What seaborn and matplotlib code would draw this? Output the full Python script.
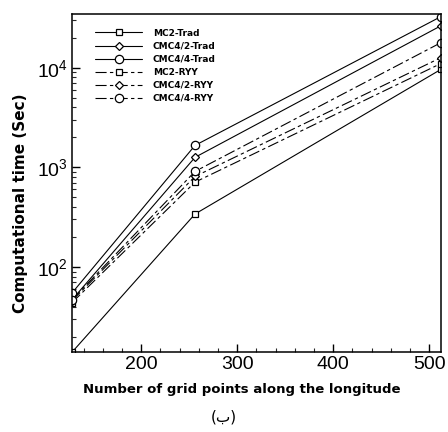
import numpy as np
import pandas as pd
import seaborn as sns
import matplotlib
matplotlib.use("Agg")
import matplotlib.pyplot as plt
from matplotlib.ticker import LogLocator, NullFormatter, MultipleLocator

grid_points = [128, 256, 512]
series_names = ["MC2-Trad", "CMC4/2-Trad", "CMC4/4-Trad", "MC2-RYY", "CMC4/2-RYY", "CMC4/4-RYY"]
mc2_trad = [14, 340, 9600]
cmc42_trad = [47, 1260, 26300]
cmc44_trad = [55, 1660, 32500]
mc2_ryy = [44, 710, 11000]
cmc42_ryy = [46, 810, 12600]
cmc44_ryy = [47, 910, 17800]
values = [mc2_trad, cmc42_trad, cmc44_trad, mc2_ryy, cmc42_ryy, cmc44_ryy]
markers = ["s", "D", "o", "s", "D", "o"]

rows = []
for name, vals in zip(series_names, values):
    for x, v in zip(grid_points, vals):
        rows.append({"x": x, "time": v, "series": name})
df = pd.DataFrame(rows)

sns.set_theme(style="white")
plt.rcParams["font.family"] = ["Liberation Sans", "DejaVu Sans"]
plt.rcParams["text.color"] = "black"
plt.rcParams["axes.labelcolor"] = "black"

fig = plt.figure(figsize=(4.48, 4.32), dpi=100)
ax = fig.add_axes([0.161, 0.185, 0.823, 0.783])

dash_ryy = (10, 3, 3, 3)
msizes = {"s": 5, "D": 4.2, "o": 6}
for name, mk in zip(series_names, markers):
    sub = df[df.series == name]
    ls = "-" if name.endswith("Trad") else (0, dash_ryy)
    sns.lineplot(data=sub, x="x", y="time", ax=ax, color="black", lw=0.8,
                 linestyle=ls, marker=mk, markersize=msizes[mk], markerfacecolor="white",
                 markeredgecolor="black", markeredgewidth=0.9, label=name)

ax.set_yscale("log")
ax.set_xlim(128, 512)
ax.set_ylim(14, 34700)
ax.xaxis.set_major_locator(MultipleLocator(100))
ax.xaxis.set_minor_locator(MultipleLocator(20))
ax.yaxis.set_major_locator(LogLocator(base=10))
ax.yaxis.set_minor_locator(LogLocator(base=10, subs=np.arange(2, 10)))
ax.yaxis.set_minor_formatter(NullFormatter())
ax.tick_params(axis="both", which="major", direction="in", length=6, width=1,
               labelsize=14, colors="black", left=True, bottom=True, pad=3)
ax.tick_params(axis="both", which="minor", direction="in", length=3, width=0.8,
               left=True, bottom=True)
for s in ax.spines.values():
    s.set_color("black")
    s.set_linewidth(1.1)

ax.set_xlabel("Number of grid points along the longitude", fontsize=9.5,
              fontweight="bold", family=["DejaVu Sans"], color="black")
ax.set_ylabel("Computational time (Sec)", fontsize=11, fontweight="bold",
              family=["DejaVu Sans"], color="black")
ax.xaxis.set_label_coords(0.46, -0.092)
ax.yaxis.set_label_coords(-0.121, 0.44)

leg = ax.legend(loc="upper left", frameon=False, handlelength=5.2,
                prop={"weight": "bold", "size": 6.5, "family": "DejaVu Sans"},
                labelspacing=0.45, bbox_to_anchor=(0.045, 0.975), handletextpad=1.2,
                borderaxespad=0.3)
for t in leg.get_texts():
    t.set_color("black")

fig.text(0.5, 0.035, "(ب)", ha="center", va="center", fontsize=11,
         family=["DejaVu Sans"], color="black")

fig.savefig("out.png", dpi=100)
